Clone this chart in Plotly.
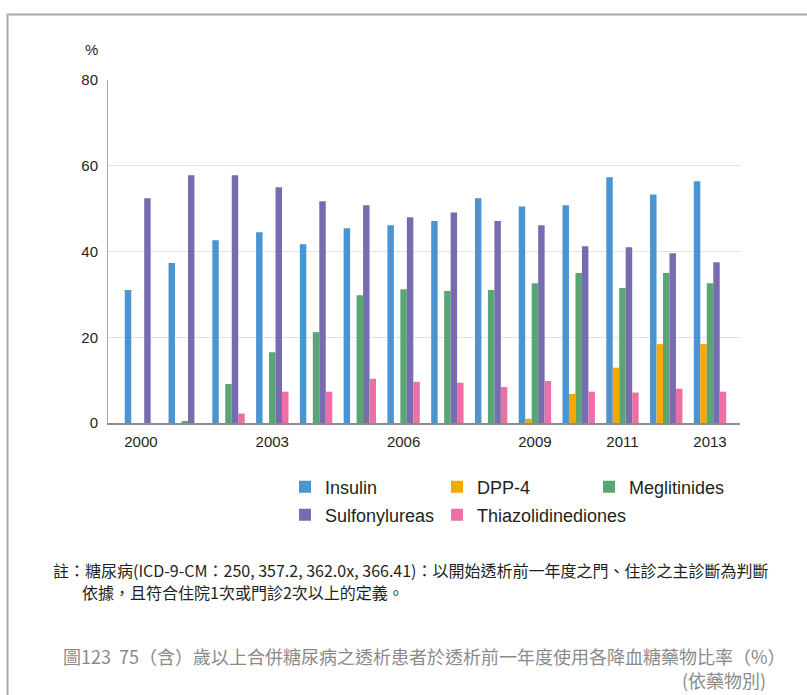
import plotly.graph_objects as go

years = list(range(2000, 2014))
insulin = [31.0, 37.3, 42.6, 44.5, 41.7, 45.4, 46.1, 47.1, 52.4, 50.5, 50.8, 57.3, 53.3, 56.4]
dpp4 = [0, 0, 0, 0, 0, 0, 0, 0, 0, 1.0, 6.8, 12.9, 18.4, 18.4]
meglitinides = [0, 0.3, 9.1, 16.5, 21.2, 29.8, 31.2, 30.8, 31.0, 32.6, 35.0, 31.5, 35.0, 32.6]
sulfonylureas = [52.4, 57.8, 57.8, 55.0, 51.7, 50.8, 48.0, 49.1, 47.1, 46.1, 41.2, 41.0, 39.6, 37.5]
tzd = [0, 0, 2.2, 7.3, 7.3, 10.3, 9.6, 9.4, 8.4, 9.8, 7.3, 7.1, 8.0, 7.3]

tick_vals = [2000, 2003, 2006, 2009, 2011, 2013]
tick_text = ["2000", "2003", "2006", "2009", "2011", "2013"]
y_ticks = [0, 20, 40, 60, 80]

series = [
    ("Insulin", insulin, "#4a95d1"),
    ("DPP-4", dpp4, "#f5a800"),
    ("Meglitinides", meglitinides, "#5aa574"),
    ("Sulfonylureas", sulfonylureas, "#786cb0"),
    ("Thiazolidinediones", tzd, "#ec6fa6"),
]

W, H = 807, 695
L, R, T, B = 108, 740, 80, 423


def px(xp):
    return (xp - L) / (R - L)


def py(yp):
    return 1 - (yp - T) / (B - T)


FONT = "Liberation Sans, Arial, sans-serif"
CJK = "Noto Sans CJK TC, Noto Sans CJK SC, sans-serif"

legend_names = ["legend", "legend2", "legend3", "legend4", "legend5"]
legend_pos = [(285, 487), (437, 487), (589, 487), (285, 515), (437, 515)]

fig = go.Figure()
for i, (name, vals, col) in enumerate(series):
    fig.add_trace(go.Bar(x=years, y=vals, name=name, marker=dict(color=col, line=dict(width=0)),
                         legend=legend_names[i]))

layout_legends = {}
for i, ln in enumerate(legend_names):
    lx, ly = legend_pos[i]
    layout_legends[ln] = dict(x=px(lx), y=py(ly), xanchor="left", yanchor="middle",
                              font=dict(family=FONT, size=18, color="#231f20"),
                              bgcolor="rgba(0,0,0,0)", borderwidth=0)

fig.update_layout(
    width=W, height=H,
    margin=dict(l=L, r=W - R, t=T, b=H - B),
    paper_bgcolor="white", plot_bgcolor="white",
    barmode="group", bargap=0.26, bargroupgap=0,
    showlegend=True,
    font=dict(family=FONT, color="#231f20"),
    **layout_legends,
)

fig.update_xaxes(range=[1999.247, 2013.685], tickvals=tick_vals, ticktext=tick_text,
                 showgrid=False, showline=True, linecolor="#8c8c8c", linewidth=1.5,
                 ticks="", tickfont=dict(family=FONT, size=15, color="#231f20"),
                 ticklabelstandoff=4, zeroline=False)
fig.update_yaxes(range=[0, 80], tickvals=y_ticks, showgrid=True, gridcolor="#e3e3e3", gridwidth=1,
                 showline=True, linecolor="#a8a8a8", linewidth=1, ticks="",
                 tickfont=dict(family=FONT, size=15, color="#231f20"),
                 ticklabelstandoff=6, zeroline=False)

# outer frame
fig.add_shape(type="path", xref="paper", yref="paper",
              path=f"M {px(7.5)} {py(700)} L {px(7.5)} {py(14.5)} L {px(810)} {py(14.5)}",
              line=dict(color="#aaaaaa", width=2))

fig.add_annotation(text="%", xref="paper", yref="paper", x=px(91), y=py(50),
                   showarrow=False, xanchor="center", yanchor="middle",
                   font=dict(family=FONT, size=15, color="#231f20"))

fig.add_annotation(text="註：糖尿病(ICD-9-CM：250, 357.2, 362.0x, 366.41)：以開始透析前一年度之門、住診之主診斷為判斷",
                   xref="paper", yref="paper", x=px(51), y=py(570), showarrow=False,
                   xanchor="left", yanchor="middle", font=dict(family=CJK, size=16, color="#231f20"))
fig.add_annotation(text="依據，且符合住院1次或門診2次以上的定義。",
                   xref="paper", yref="paper", x=px(80), y=py(592), showarrow=False,
                   xanchor="left", yanchor="middle", font=dict(family=CJK, size=16, color="#231f20"))

fig.add_annotation(text="圖123  75（含）歲以上合併糖尿病之透析患者於透析前一年度使用各降血糖藥物比率（%）",
                   xref="paper", yref="paper", x=px(788), y=py(656), showarrow=False,
                   xanchor="right", yanchor="middle", font=dict(family=CJK, size=18, color="#8a8a8a"))
fig.add_annotation(text="(依藥物別)",
                   xref="paper", yref="paper", x=px(768), y=py(680), showarrow=False,
                   xanchor="right", yanchor="middle", font=dict(family=CJK, size=18, color="#8a8a8a"))

fig.write_html("out.html", config={"displayModeBar": False},
               post_script="document.body.style.margin='0px';")
